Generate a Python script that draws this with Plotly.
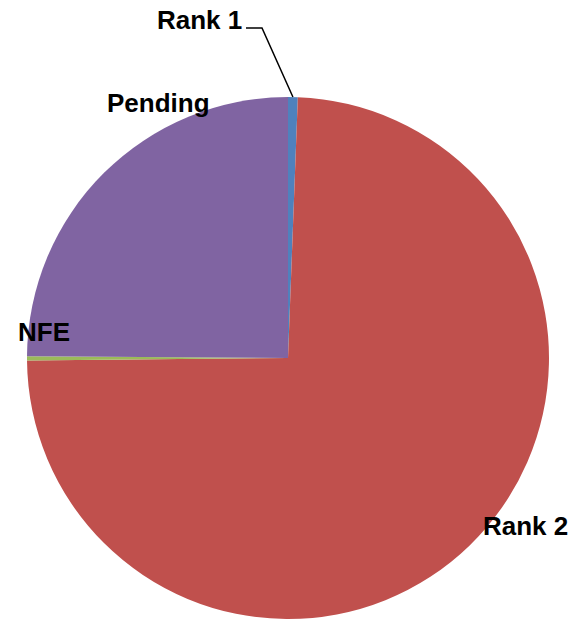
import math
import plotly.graph_objects as go

labels = ["Rank 1", "Rank 2", "NFE", "Pending"]
values = [0.6, 74.25, 0.25, 24.9]
colors = ["#4F81BD", "#C0504D", "#9BBB59", "#8064A2"]

W, H = 571, 620
cx, cy, r = 288, 358, 261

fig = go.Figure(go.Pie(
    labels=labels, values=values, sort=False, direction="clockwise", rotation=0,
    marker=dict(colors=colors, line=dict(width=0)),
    textinfo="none", hoverinfo="label+percent", showlegend=False,
    domain=dict(x=[(cx - r) / W, (cx + r) / W], y=[1 - (cy + r) / H, 1 - (cy - r) / H]),
))

def px(x, y):
    return x / W, 1 - y / H

label_pos = {"Rank 1": (199, 20), "Rank 2": (525, 526), "NFE": (44, 332), "Pending": (158, 103)}
font = dict(family="Liberation Sans, Arial", size=26, color="black")
for lab in labels:
    x, y = px(*label_pos[lab])
    fig.add_annotation(x=x, y=y, xref="paper", yref="paper", text="<b>%s</b>" % lab,
                       showarrow=False, font=font, xanchor="center", yanchor="middle")

# leader line for Rank 1, ending at slice's outer mid-point
total = sum(values)
mid = values[0] / 2 / total * 2 * math.pi
ex, ey = cx + r * math.sin(mid), cy - r * math.cos(mid)
p0 = px(246, 28); p1 = px(262, 28); p2 = px(ex, ey)
fig.add_shape(type="path", xref="paper", yref="paper",
              path="M %f %f L %f %f L %f %f" % (p0[0], p0[1], p1[0], p1[1], p2[0], p2[1]),
              line=dict(color="black", width=1.5))

fig.update_layout(width=W, height=H, margin=dict(l=0, r=0, t=0, b=0),
                  paper_bgcolor="white", plot_bgcolor="white")
fig.write_html("out.html", config={"displayModeBar": False},
               post_script="document.body.style.margin='0';document.body.style.overflow='hidden';")
